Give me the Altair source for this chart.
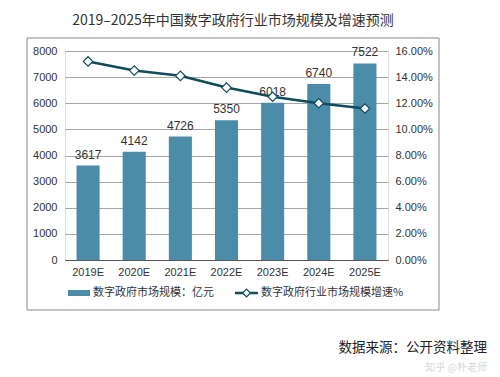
import altair as alt
import pandas as pd

years = ["2019E", "2020E", "2021E", "2022E", "2023E", "2024E", "2025E"]
market = [3617, 4142, 4726, 5350, 6018, 6740, 7522]
growth = [0.152, 0.145, 0.141, 0.132, 0.125, 0.120, 0.116]
left_ticks = [0, 1000, 2000, 3000, 4000, 5000, 6000, 7000, 8000]
right_ticks = [0.0, 0.02, 0.04, 0.06, 0.08, 0.10, 0.12, 0.14, 0.16]

title_text = "2019–2025年中国数字政府行业市场规模及增速预测"
bar_name = "数字政府市场规模：亿元"
line_name = "数字政府行业市场规模增速%"
source_text = "数据来源：公开资料整理"
watermark = "知乎 @朴老师"

df = pd.DataFrame({"year": years, "market": market, "growth": growth})

NUM = "Liberation Sans"
CJK = "Noto Sans CJK SC"
BAR = "#4b8ca8"
LINE = "#0f4c5c"

W, H = 323, 209

x_axis = alt.Axis(labelAngle=0, ticks=False, domain=True, domainColor="#555",
                  labelPadding=6, labelFont=NUM, labelFontSize=11, labelColor="#333")
x_scale = alt.Scale(paddingInner=0.5, paddingOuter=0.25)
ly_axis = alt.Axis(values=left_ticks, format="d", labelOverlap=False,
                   grid=True, gridColor="#a6a6a6", domain=False, ticks=False,
                   labelPadding=8, labelFont=NUM, labelFontSize=11, labelColor="#333")
ly_scale = alt.Scale(domain=[0, 8000], nice=False)
ry_axis = alt.Axis(orient="right", values=right_ticks, format=".2%", labelOverlap=False,
                   grid=False, domain=False, ticks=False, labelPadding=7, labelFont=NUM,
                   labelFontSize=11, labelColor="#333")
ry_scale = alt.Scale(domain=[0, 0.16], nice=False)


def X():
    return alt.X("year:N", sort=years, title=None, scale=x_scale, axis=x_axis)


def LY():
    return alt.Y("market:Q", title=None, scale=ly_scale, axis=ly_axis)


def RY():
    return alt.Y("growth:Q", title=None, scale=ry_scale, axis=ry_axis)


base = alt.Chart(df)

bars = base.mark_bar(color=BAR).encode(x=X(), y=LY())
labels = base.mark_text(baseline="bottom", dy=-4, font=NUM, fontSize=12, color="#333").encode(
    x=X(), y=LY(), text=alt.Text("market:Q", format="d"))
left = alt.layer(bars, labels)

line = base.mark_line(color=LINE, strokeWidth=2.5).encode(x=X(), y=RY())
pts = base.mark_point(shape="diamond", filled=True, fill="white", stroke=LINE,
                      strokeWidth=1.2, size=90, opacity=1).encode(x=X(), y=RY())
right = alt.layer(line, pts)

ann = pd.DataFrame({"k": [0]})
a = alt.Chart(ann)
box = a.mark_rect(fill=None, stroke="#888", strokeWidth=1, clip=False).encode(
    x=alt.value(-38), x2=alt.value(374), y=alt.value(-13), y2=alt.value(259))
title = a.mark_text(text=title_text, font=CJK, fontSize=14, color="#333",
                    align="center", baseline="middle").encode(x=alt.value(168), y=alt.value(-30))
sw_bar = a.mark_rect(color=BAR).encode(
    x=alt.value(3), x2=alt.value(25), y=alt.value(239), y2=alt.value(245))
t_bar = a.mark_text(text=bar_name, font=CJK, fontSize=11, color="#333",
                    align="left", baseline="middle").encode(x=alt.value(28), y=alt.value(242))
sw_line = a.mark_rule(color=LINE, strokeWidth=2.5).encode(
    x=alt.value(170), x2=alt.value(193), y=alt.value(242))
sw_pt = a.mark_point(shape="diamond", filled=True, fill="white", stroke=LINE,
                     strokeWidth=1.2, size=60, opacity=1).encode(x=alt.value(181.5), y=alt.value(242))
t_line = a.mark_text(text=line_name, font=CJK, fontSize=11, color="#333",
                     align="left", baseline="middle").encode(x=alt.value(196), y=alt.value(242))
src = a.mark_text(text=source_text, font=CJK, fontSize=13.5, color="#222",
                  align="right", baseline="middle").encode(x=alt.value(422), y=alt.value(297))
wm = a.mark_text(text=watermark, font=CJK, fontSize=10, color="#d0d0d0", opacity=0.8,
                 align="right", baseline="middle").encode(x=alt.value(422), y=alt.value(317))

chart = alt.layer(left, right, box, title, sw_bar, t_bar, sw_line, sw_pt, t_line, src, wm).resolve_scale(
    y="independent"
).properties(
    width=W, height=H,
    autosize=alt.AutoSizeParams(type="none"),
    padding={"left": 65, "top": 51, "right": 500 - 65 - W, "bottom": 377 - 51 - H},
).configure_view(stroke=None).configure(background="white")

chart.save("out.html", embed_options={"renderer": "svg", "actions": False})
